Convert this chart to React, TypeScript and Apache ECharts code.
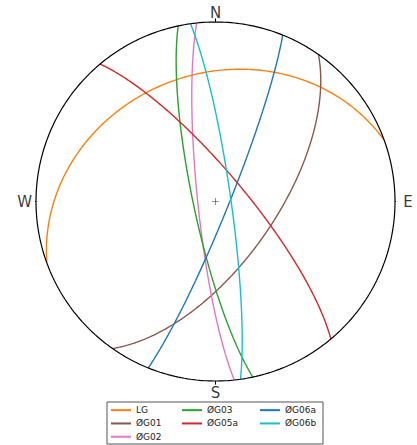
import React, { useEffect, useRef } from "react";
import * as echarts from "echarts";

const planeNames = ["LG", "ØG01", "ØG02", "ØG03", "ØG05a", "ØG06a", "ØG06b"];
const strikes = [250, 35, 174, 168, 320, 22, 352];
const dips = [29.5, 63, 82, 80, 77, 84, 83];
const colors = ["#ff7f0e", "#8c564b", "#e377c2", "#2ca02c", "#d62728", "#1f77b4", "#17becf"];
const cardinalLabels = ["N", "E", "S", "W"];
const cardinalAzimuths = [0, 90, 180, 270];

const legendColumns = [
  ["LG", "ØG01", "ØG02"],
  ["ØG03", "ØG05a"],
  ["ØG06a", "ØG06b"],
];

const D2R = Math.PI / 180;

// equal-area (Schmidt) projection of a lower-hemisphere unit vector
function project(vx: number, vy: number, vz: number): [number, number] {
  const sinp = Math.min(1, Math.max(0, -vz));
  const h = Math.sqrt(vx * vx + vy * vy);
  const r = Math.sqrt(1 - sinp);
  if (h < 1e-9) return [0, 0];
  return [(r * vx) / h, (r * vy) / h];
}

function greatCircle(strike: number, dip: number): [number, number][] {
  const s = strike * D2R;
  const dd = (strike + 90) * D2R;
  const d = dip * D2R;
  const S = [Math.sin(s), Math.cos(s), 0];
  const D = [Math.sin(dd) * Math.cos(d), Math.cos(dd) * Math.cos(d), -Math.sin(d)];
  const pts: [number, number][] = [];
  const n = 200;
  for (let i = 0; i <= n; i++) {
    const t = (Math.PI * i) / n;
    const c = Math.cos(t), sn = Math.sin(t);
    pts.push(project(c * S[0] + sn * D[0], c * S[1] + sn * D[1], c * S[2] + sn * D[2]));
  }
  return pts;
}

export default function App() {
  const ref = useRef<HTMLDivElement>(null);
  useEffect(() => {
    if (!ref.current) return;
    const chart = echarts.init(ref.current, undefined, { renderer: "svg" });

    const primitive: [number, number][] = [];
    for (let a = 0; a <= 360; a += 1) primitive.push([Math.sin(a * D2R), Math.cos(a * D2R)]);

    const series: any[] = [
      {
        type: "line",
        name: "primitive",
        data: primitive,
        showSymbol: false,
        clip: false,
        lineStyle: { color: "#000", width: 1.2 },
        silent: true,
        z: 3,
      },
    ];

    cardinalAzimuths.forEach((az, i) => {
      const sx = Math.sin(az * D2R), sy = Math.cos(az * D2R);
      series.push({
        type: "line",
        name: "tick" + i,
        data: [
          [sx, sy],
          [sx * 1.02, sy * 1.02],
        ],
        showSymbol: false,
        clip: false,
        lineStyle: { color: "#000", width: 1 },
        silent: true,
      });
    });

    const labelR = [1.05, 1.072, 1.067, 1.063];
    series.push({
      type: "scatter",
      name: "cardinal",
      symbolSize: 0,
      clip: false,
      silent: true,
      data: cardinalLabels.map((l, i) => ({
        value: [Math.sin(cardinalAzimuths[i] * D2R) * labelR[i], Math.cos(cardinalAzimuths[i] * D2R) * labelR[i]],
        name: l,
      })),
      label: {
        show: true,
        position: "inside",
        formatter: (p: any) => p.name,
        color: "#000",
        fontSize: 15,
        fontFamily: "DejaVu Sans",
      },
    });

    series.push({
      type: "scatter",
      name: "center",
      symbol: "path://M-0.08,-1H0.08V-0.08H1V0.08H0.08V1H-0.08V0.08H-1V-0.08H-0.08Z",
      symbolSize: 7,
      itemStyle: { color: "#000" },
      data: [[0, 0]],
      silent: true,
    });

    planeNames.forEach((name, i) => {
      series.push({
        type: "line",
        name,
        data: greatCircle(strikes[i], dips[i]),
        showSymbol: false,
        clip: false,
        color: colors[i],
        lineStyle: { color: colors[i], width: 1.4 },
        z: 2,
      });
    });

    const legendLefts = [111, 182, 260];
    const legends = legendColumns.map((col, i) => ({
      data: col,
      orient: "vertical",
      left: legendLefts[i],
      top: 403.5,
      padding: 0,
      itemGap: 0,
      itemWidth: 20,
      itemHeight: 2,
      icon: "rect",
      selectedMode: false,
      textStyle: { fontSize: 9, fontFamily: "DejaVu Sans", color: "#222", lineHeight: 13.3 },
    }));

    chart.setOption({
      animation: false,
      backgroundColor: "#fff",
      grid: { left: 36, top: 22, width: 359, height: 359, containLabel: false },
      xAxis: { type: "value", min: -1, max: 1, show: false },
      yAxis: { type: "value", min: -1, max: 1, show: false },
      legend: legends,
      graphic: [
        {
          type: "rect",
          shape: { x: 107, y: 402, width: 216, height: 42 },
          style: { fill: "none", stroke: "#555", lineWidth: 1 },
        },
      ],
      series,
    });
    return () => chart.dispose();
  }, []);
  return <div ref={ref} style={{ width: 417, height: 445, position: "absolute", left: 0, top: 0 }} />;
}
